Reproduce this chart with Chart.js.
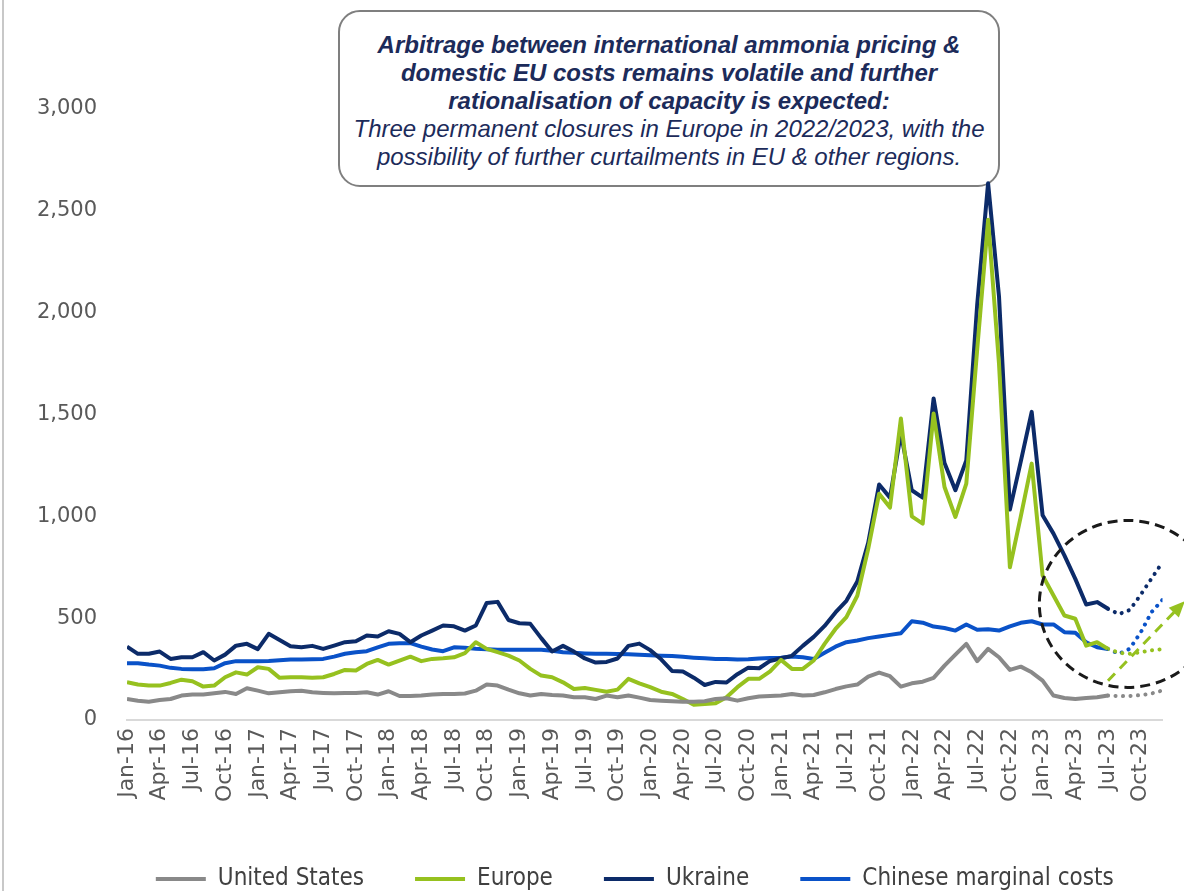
<!DOCTYPE html>
<html>
<head>
<meta charset="utf-8">
<script src="https://cdn.jsdelivr.net/npm/chart.js@4.4.1/dist/chart.umd.min.js"></script>
<style>
  body { margin: 0; background: #fff; }
  #wrap { position: relative; width: 1184px; height: 891px; overflow: hidden; }
  #edge { position: absolute; left: 2px; top: 0; width: 2px; height: 891px; background: #c8c8c8; }
  #note {
    position: absolute; left: 338px; top: 10px; width: 658px; height: 154px;
    border: 2px solid #7f7f7f; border-radius: 22px; background: #fff;
    font-family: "Liberation Sans", Arial, sans-serif; font-size: 24px; line-height: 28px;
    color: #1c2b5a; text-align: center; font-style: italic; padding-top: 19px; box-sizing: content-box;
    white-space: nowrap;
  }
  #note b { font-weight: bold; }
  #chart { position: absolute; left: 0; top: 0; z-index: 1; }
</style>
</head>
<body>
<div id="wrap">
  <div id="edge"></div>
  <div id="note">
    <b>Arbitrage between international ammonia pricing &amp;<br>
    domestic EU costs remains volatile and further<br>
    rationalisation of capacity is expected:</b><br>
    Three permanent closures in Europe in 2022/2023, with the<br>
    possibility of further curtailments in EU &amp; other regions.
  </div>
  <canvas id="chart" width="1184" height="891"></canvas>
</div>
<script>
// months Jan-16 .. Dec-23
var monthNames = ['Jan','Feb','Mar','Apr','May','Jun','Jul','Aug','Sep','Oct','Nov','Dec'];
var monthLabels = [];
for (var yr = 16; yr <= 23; yr++) {
	for (var m = 0; m < 12; m++) monthLabels.push(monthNames[m] + '-' + yr);
}

// actuals Jan-16 .. Jul-23
var usValues = [
	103, 95, 90, 98, 103, 120, 125, 125, 131, 138,
	128, 156, 144, 131, 136, 141, 144, 136, 133, 131,
	133, 133, 136, 125, 141, 118, 118, 120, 125, 128,
	128, 130, 144, 174, 169, 149, 131, 120, 128, 123,
	120, 112, 112, 103, 120, 112, 120, 110, 98, 95,
	92, 90, 90, 92, 103, 107, 95, 107, 115, 118,
	120, 128, 120, 123, 136, 152, 165, 174, 213, 233,
	215, 164, 180, 188, 207, 267, 321, 374, 289, 349,
	308, 246, 262, 234, 193, 120, 108, 103, 108, 112, 120
];
var europeValues = [
	185, 174, 169, 169, 182, 198, 190, 164, 169, 210,
	234, 223, 259, 251, 207, 210, 210, 207, 210, 226,
	246, 243, 275, 295, 272, 292, 311, 289, 300, 303,
	308, 328, 382, 349, 333, 316, 292, 251, 218, 210,
	185, 152, 157, 148, 139, 149, 202, 180, 161, 139,
	128, 103, 75, 79, 82, 112, 161, 202, 202, 239,
	295, 251, 251, 292, 374, 447, 505, 610, 840, 1111,
	1043, 1480, 1000, 964, 1505, 1144, 997, 1161, 1820, 2456,
	1750, 750, 1000, 1259, 710, 611, 513, 497, 365, 382, 349
];
var ukraineValues = [
	360, 325, 325, 336, 300, 308, 308, 333, 292, 321,
	365, 374, 348, 423, 393, 362, 357, 364, 349, 365,
	382, 387, 415, 410, 436, 423, 382, 415, 439, 464,
	460, 439, 464, 575, 580, 491, 475, 472, 402, 336,
	364, 336, 302, 282, 285, 302, 364, 375, 343, 298,
	241, 238, 208, 172, 187, 184, 225, 257, 254, 290,
	303, 315, 364, 408, 462, 528, 585, 680, 870, 1156,
	1092, 1407, 1128, 1092, 1579, 1262, 1128, 1275, 2040, 2636,
	2080, 1033, 1270, 1513, 1005, 915, 808, 693, 567, 579, 546
];
var chineseValues = [
	279, 279, 272, 267, 256, 251, 249, 249, 254, 279,
	289, 289, 289, 290, 293, 297, 297, 298, 300, 311,
	325, 333, 338, 357, 374, 377, 377, 360, 346, 338,
	357, 355, 350, 347, 345, 345, 345, 345, 345, 340,
	333, 330, 327, 325, 325, 324, 323, 320, 318, 316,
	314, 310, 306, 303, 300, 300, 297, 298, 302, 305,
	306, 312, 308, 300, 330, 360, 382, 390, 402, 410,
	418, 426, 485, 478, 459, 452, 439, 469, 443, 446,
	439, 460, 477, 485, 469, 469, 431, 428, 382, 357, 349
];

// outlook Jul-23 .. Dec-23
var forecastMonths = [90, 91, 92, 93, 94, 95];
var usForecast = [120, 117, 118, 122, 130, 145];
var europeForecast = [349, 330, 325, 333, 342, 348];
var ukraineForecast = [546, 520, 540, 615, 695, 775];
var chineseForecast = [349, 325, 350, 430, 530, 590];

// green dashed arrow (runs off the right edge)
var arrowMonths = [90, 96.8];
var arrowValues = [193, 570];

// dashed ring round the outlook
var ringCentre = [91.8, 570];
var ringRadius = [8.1, 410];

var colUS = '#898989';
var colEU = '#96c11f';
var colUA = '#0c2b69';
var colCN = '#0a52c8';

function pts(xs, ys) {
	return ys.map(function(v, i) { return {x: xs ? xs[i] : i, y: v}; });
}

function solid(label, values, color) {
	return {label: label, data: pts(null, values), borderColor: color, backgroundColor: color,
		borderWidth: 4, pointRadius: 0, tension: 0, borderJoinStyle: 'round'};
}
function dotted(label, values, color) {
	return {label: label, data: pts(forecastMonths, values), borderColor: color, backgroundColor: color,
		borderWidth: 4, pointRadius: 0, tension: 0, borderDash: [0.1, 7.4], borderCapStyle: 'round'};
}

var extras = {
	id: 'extras',
	afterLayout: function(chart) {
		// legend is centred a bit right of the canvas centre
		chart.legend.left += 53.5;
		chart.legend.right += 53.5;
	},
	afterDatasetsDraw: function(chart) {
		var ctx = chart.ctx, x = chart.scales.x, y = chart.scales.y;
		// ring
		var cx = x.getPixelForValue(ringCentre[0]);
		var cy = y.getPixelForValue(ringCentre[1]);
		var rx = x.getPixelForValue(ringCentre[0] + ringRadius[0]) - cx;
		var ry = cy - y.getPixelForValue(ringCentre[1] + ringRadius[1]);
		ctx.save();
		ctx.strokeStyle = '#1a1a1a';
		ctx.lineWidth = 3;
		ctx.setLineDash([10, 6]);
		ctx.beginPath();
		ctx.ellipse(cx, cy, rx, ry, 0, 0, Math.PI * 2);
		ctx.stroke();
		ctx.restore();
		// arrow head
		var p = chart.getDatasetMeta(8).data;
		var a = p[p.length - 2], b = p[p.length - 1];
		var ang = Math.atan2(b.y - a.y, b.x - a.x);
		ctx.save();
		ctx.fillStyle = colEU;
		ctx.translate(b.x, b.y);
		ctx.rotate(ang);
		ctx.beginPath();
		ctx.moveTo(4, 0);
		ctx.lineTo(-12, -7);
		ctx.lineTo(-12, 7);
		ctx.closePath();
		ctx.fill();
		ctx.restore();
	}
};

var tickFont = {family: '"DejaVu Sans", Verdana, sans-serif', size: 21};

var chart = new Chart(document.getElementById('chart'), {
	type: 'line',
	data: {
		datasets: [
			solid('United States', usValues, colUS),
			solid('Europe', europeValues, colEU),
			solid('Ukraine', ukraineValues, colUA),
			solid('Chinese marginal costs', chineseValues, colCN),
			dotted('US outlook', usForecast, colUS),
			dotted('Europe outlook', europeForecast, colEU),
			dotted('Ukraine outlook', ukraineForecast, colUA),
			dotted('China outlook', chineseForecast, colCN),
			{label: 'arrow', data: pts(arrowMonths, arrowValues), borderColor: colEU, borderWidth: 3,
				borderDash: [10, 7], pointRadius: 0, clip: false}
		]
	},
	options: {
		responsive: false,
		animation: false,
		layout: {padding: {left: 0, right: 21.5, top: 109, bottom: -10}},
		plugins: {
			tooltip: {enabled: false},
			legend: {
				position: 'bottom',
				labels: {
					boxWidth: 50,
					boxHeight: 4,
					padding: 51,
					color: '#404040',
					font: {family: '"DejaVu Sans Condensed", "Liberation Sans", sans-serif', size: 24},
					filter: function(item) { return item.datasetIndex < 4; },
					generateLabels: function(c) {
						var items = Chart.defaults.plugins.legend.labels.generateLabels(c);
						items.forEach(function(it) {
							it.fillStyle = c.data.datasets[it.datasetIndex].borderColor;
							it.lineWidth = 0;
							it.strokeStyle = 'rgba(0,0,0,0)';
						});
						return items;
					}
				}
			}
		},
		scales: {
			x: {
				type: 'linear',
				min: 0,
				max: 95,
				grid: {display: false, drawTicks: false},
				border: {display: true, color: '#d9d9d9', width: 2},
				ticks: {
					stepSize: 3,
					autoSkip: false,
					includeBounds: false,
					minRotation: 90,
					maxRotation: 90,
					padding: 8,
					color: '#595959',
					font: {family: '"DejaVu Sans", Verdana, sans-serif', size: 22},
					callback: function(v) { return monthLabels[v]; }
				},
				afterFit: function(s) { s.height = 96; }
			},
			y: {
				min: 0,
				max: 3000,
				grid: {display: false, drawTicks: false},
				border: {display: false},
				ticks: {
					stepSize: 500,
					padding: 30,
					color: '#595959',
					font: tickFont,
					callback: function(v) { return v.toLocaleString('en-US'); }
				},
				afterFit: function(s) { s.width = 127; }
			}
		}
	},
	plugins: [extras]
});
</script>
</body>
</html>
